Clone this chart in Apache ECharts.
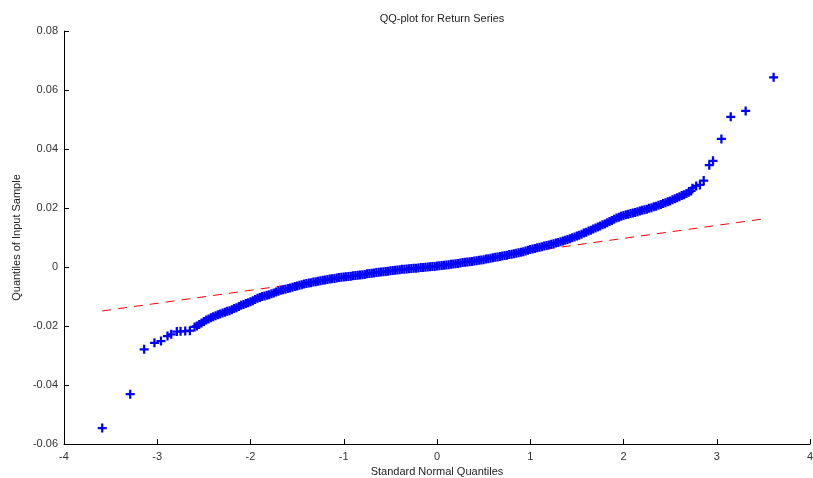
<!DOCTYPE html>
<html>
<head>
<meta charset="utf-8">
<title>QQ-plot for Return Series</title>
<script src="https://cdn.jsdelivr.net/npm/echarts@6/dist/echarts.min.js"></script>
<style>
  html, body { margin: 0; padding: 0; background: #fff; }
  #main { width: 813px; height: 478px; }
</style>
</head>
<body>
<div id="main"></div>
<script>
// sample quantiles: [standard normal quantile, sample quantile]
var lowerTail = [
  [-3.59, -0.0546], [-3.29, -0.0431], [-3.14, -0.0279], [-3.03, -0.0257],
  [-2.96, -0.0251], [-2.89, -0.0234], [-2.85, -0.0228], [-2.79, -0.0219],
  [-2.75, -0.0218], [-2.70, -0.0217], [-2.65, -0.0216], [-2.60, -0.0203]
];

// the dense middle band
var body = [
  [-2.575, -0.0200], [-2.550, -0.0195], [-2.525, -0.0190], [-2.500, -0.0185],
  [-2.475, -0.0180], [-2.450, -0.0176], [-2.425, -0.0172], [-2.400, -0.0169],
  [-2.375, -0.0165], [-2.350, -0.0162], [-2.325, -0.0159], [-2.300, -0.0156],
  [-2.275, -0.0153], [-2.250, -0.0150], [-2.225, -0.0148], [-2.200, -0.0145],
  [-2.175, -0.0141], [-2.150, -0.0138], [-2.125, -0.0134], [-2.100, -0.0130],
  [-2.075, -0.0127], [-2.050, -0.0124], [-2.025, -0.0121], [-2.000, -0.0118],
  [-1.975, -0.0114], [-1.950, -0.0110], [-1.925, -0.0106], [-1.900, -0.0103],
  [-1.875, -0.0100], [-1.850, -0.0098], [-1.825, -0.0096], [-1.800, -0.0094],
  [-1.775, -0.0091], [-1.750, -0.0088], [-1.725, -0.0085], [-1.700, -0.0082],
  [-1.675, -0.0079], [-1.650, -0.0077], [-1.625, -0.0075], [-1.600, -0.0073],
  [-1.575, -0.0071], [-1.550, -0.0069], [-1.525, -0.0066], [-1.500, -0.0064],
  [-1.475, -0.0062], [-1.450, -0.0060], [-1.425, -0.0058], [-1.400, -0.0056],
  [-1.375, -0.0054], [-1.350, -0.0053], [-1.325, -0.0051], [-1.300, -0.0050],
  [-1.275, -0.0048], [-1.250, -0.0047], [-1.225, -0.0045], [-1.200, -0.0044],
  [-1.175, -0.0042], [-1.150, -0.0041], [-1.125, -0.0040], [-1.100, -0.0039],
  [-1.075, -0.0037], [-1.050, -0.0036], [-1.025, -0.0035], [-1.000, -0.0034],
  [-0.975, -0.0033], [-0.950, -0.0032], [-0.925, -0.0031], [-0.900, -0.0030],
  [-0.875, -0.0029], [-0.850, -0.0028], [-0.825, -0.0027], [-0.800, -0.0026],
  [-0.775, -0.0025], [-0.750, -0.0023], [-0.725, -0.0022], [-0.700, -0.0021],
  [-0.675, -0.0020], [-0.650, -0.0019], [-0.625, -0.0018], [-0.600, -0.0017],
  [-0.575, -0.0016], [-0.550, -0.0015], [-0.525, -0.0014], [-0.500, -0.0013],
  [-0.475, -0.0012], [-0.450, -0.0011], [-0.425, -0.0010], [-0.400, -0.0009],
  [-0.375, -0.0008], [-0.350, -0.00075], [-0.325, -0.0007], [-0.300, -0.0006],
  [-0.275, -0.0005], [-0.250, -0.00045], [-0.225, -0.0004], [-0.200, -0.0003],
  [-0.175, -0.0002], [-0.150, -0.00015], [-0.125, -0.0001], [-0.100, 0.0000],
  [-0.075, 0.0001], [-0.050, 0.00015], [-0.025, 0.0002], [0.000, 0.0003],
  [0.025, 0.0004], [0.050, 0.0005], [0.075, 0.0006], [0.100, 0.0007],
  [0.125, 0.0008], [0.150, 0.0009], [0.175, 0.0010], [0.200, 0.0011],
  [0.225, 0.0012], [0.250, 0.00135], [0.275, 0.0015], [0.300, 0.0016],
  [0.325, 0.0017], [0.350, 0.0018], [0.375, 0.0019], [0.400, 0.0020],
  [0.425, 0.0021], [0.450, 0.00225], [0.475, 0.0024], [0.500, 0.0025],
  [0.525, 0.0027], [0.550, 0.0028], [0.575, 0.0030], [0.600, 0.0031],
  [0.625, 0.0033], [0.650, 0.0034], [0.675, 0.0036], [0.700, 0.0037],
  [0.725, 0.0039], [0.750, 0.0040], [0.775, 0.0042], [0.800, 0.0043],
  [0.825, 0.0045], [0.850, 0.00465], [0.875, 0.0048], [0.900, 0.0050],
  [0.925, 0.0052], [0.950, 0.0054], [0.975, 0.0057], [1.000, 0.0059],
  [1.025, 0.0061], [1.050, 0.0063], [1.075, 0.0065], [1.100, 0.0067],
  [1.125, 0.0069], [1.150, 0.0071], [1.175, 0.0073], [1.200, 0.0075],
  [1.225, 0.0077], [1.250, 0.0079], [1.275, 0.0081], [1.300, 0.0083],
  [1.325, 0.0086], [1.350, 0.0088], [1.375, 0.0091], [1.400, 0.0093],
  [1.425, 0.0096], [1.450, 0.0099], [1.475, 0.0102], [1.500, 0.0105],
  [1.525, 0.0108], [1.550, 0.0111], [1.575, 0.0115], [1.600, 0.0118],
  [1.625, 0.0122], [1.650, 0.0125], [1.675, 0.0129], [1.700, 0.0132],
  [1.725, 0.0136], [1.750, 0.0139], [1.775, 0.0143], [1.800, 0.0146],
  [1.825, 0.0150], [1.850, 0.0154], [1.875, 0.0158], [1.900, 0.0162],
  [1.925, 0.0166], [1.950, 0.0169], [1.975, 0.0172], [2.000, 0.0175],
  [2.025, 0.0177], [2.050, 0.0179], [2.075, 0.0181], [2.100, 0.0183],
  [2.125, 0.0185], [2.150, 0.0187], [2.175, 0.0190], [2.200, 0.0192],
  [2.225, 0.0194], [2.250, 0.0196], [2.275, 0.0199], [2.300, 0.0201],
  [2.325, 0.0204], [2.350, 0.0206], [2.375, 0.0209], [2.400, 0.0212],
  [2.425, 0.0215], [2.450, 0.0218], [2.475, 0.0221], [2.500, 0.0224],
  [2.525, 0.0228], [2.550, 0.0231], [2.575, 0.0235], [2.600, 0.0238],
  [2.625, 0.0242], [2.650, 0.0245], [2.675, 0.0249], [2.700, 0.0253],
  [2.725, 0.0258]
];

var upperTail = [
  [2.74, 0.0267], [2.78, 0.0275], [2.82, 0.0278], [2.86, 0.0293],
  [2.92, 0.0345], [2.96, 0.0360], [3.05, 0.0434], [3.15, 0.0509],
  [3.31, 0.0529], [3.61, 0.0643]
];

// dashed reference line, end points
var refLine = [[-3.59, -0.0149], [3.50, 0.0163]];

var xTicks = { min: -4, max: 4, step: 1 };
var yTicks = { min: -0.06, max: 0.08, step: 0.02 };

var plusMark = 'path://M3.75,0h2.5v3.75h3.75v2.5h-3.75v3.75h-2.5v-3.75h-3.75v-2.5h3.75z';
var font = 'Liberation Sans, Arial, sans-serif';

var chart = echarts.init(document.getElementById('main'));
var chartOptions = {
  backgroundColor: '#fff',
  animation: false,

  title: {
    text: 'QQ-plot for Return Series',
    left: 437,
    top: 8,
    textAlign: 'center',
    textStyle: { fontFamily: font, fontSize: 11, fontWeight: 'normal', color: '#222' }
  },

  grid: { left: 64, right: 3, top: 31, bottom: 34, outerBoundsMode: 'none' },

  xAxis: {
    type: 'value',
    min: xTicks.min,
    max: xTicks.max,
    interval: xTicks.step,
    name: 'Standard Normal Quantiles',
    nameLocation: 'middle',
    nameGap: 16,
    nameTextStyle: { fontFamily: font, fontSize: 11, color: '#222' },
    axisLine: { show: true, onZero: false, lineStyle: { color: '#000', width: 1 } },
    axisTick: { show: true, inside: true, length: 5, lineStyle: { color: '#000' } },
    axisLabel: { fontFamily: font, fontSize: 11, color: '#333', margin: 7 },
    splitLine: { show: false }
  },

  yAxis: {
    type: 'value',
    min: yTicks.min,
    max: yTicks.max,
    interval: yTicks.step,
    name: 'Quantiles of Input Sample',
    nameLocation: 'middle',
    nameGap: 42,
    nameTextStyle: { fontFamily: font, fontSize: 11, color: '#222' },
    axisLine: { show: true, onZero: false, lineStyle: { color: '#000', width: 1 } },
    axisTick: { show: true, inside: true, length: 5, lineStyle: { color: '#000' } },
    axisLabel: {
      fontFamily: font, fontSize: 11, color: '#333', margin: 6,
      formatter: function (v) { return Math.abs(v) < 1e-9 ? '0' : String(+v.toFixed(2)); }
    },
    splitLine: { show: false }
  },

  series: [
    {
      name: 'reference',
      type: 'line',
      data: refLine,
      symbol: 'none',
      lineStyle: { color: '#ff0000', width: 1, type: [9, 7] },
      z: 1
    },
    {
      name: 'sample',
      type: 'scatter',
      data: lowerTail.concat(body, upperTail),
      symbol: plusMark,
      symbolSize: 9,
      itemStyle: { color: '#0000ff', opacity: 1 },
      z: 2
    }
  ]
};
chart.setOption(chartOptions);
window.addEventListener('resize', chart.resize);
</script>
</body>
</html>
